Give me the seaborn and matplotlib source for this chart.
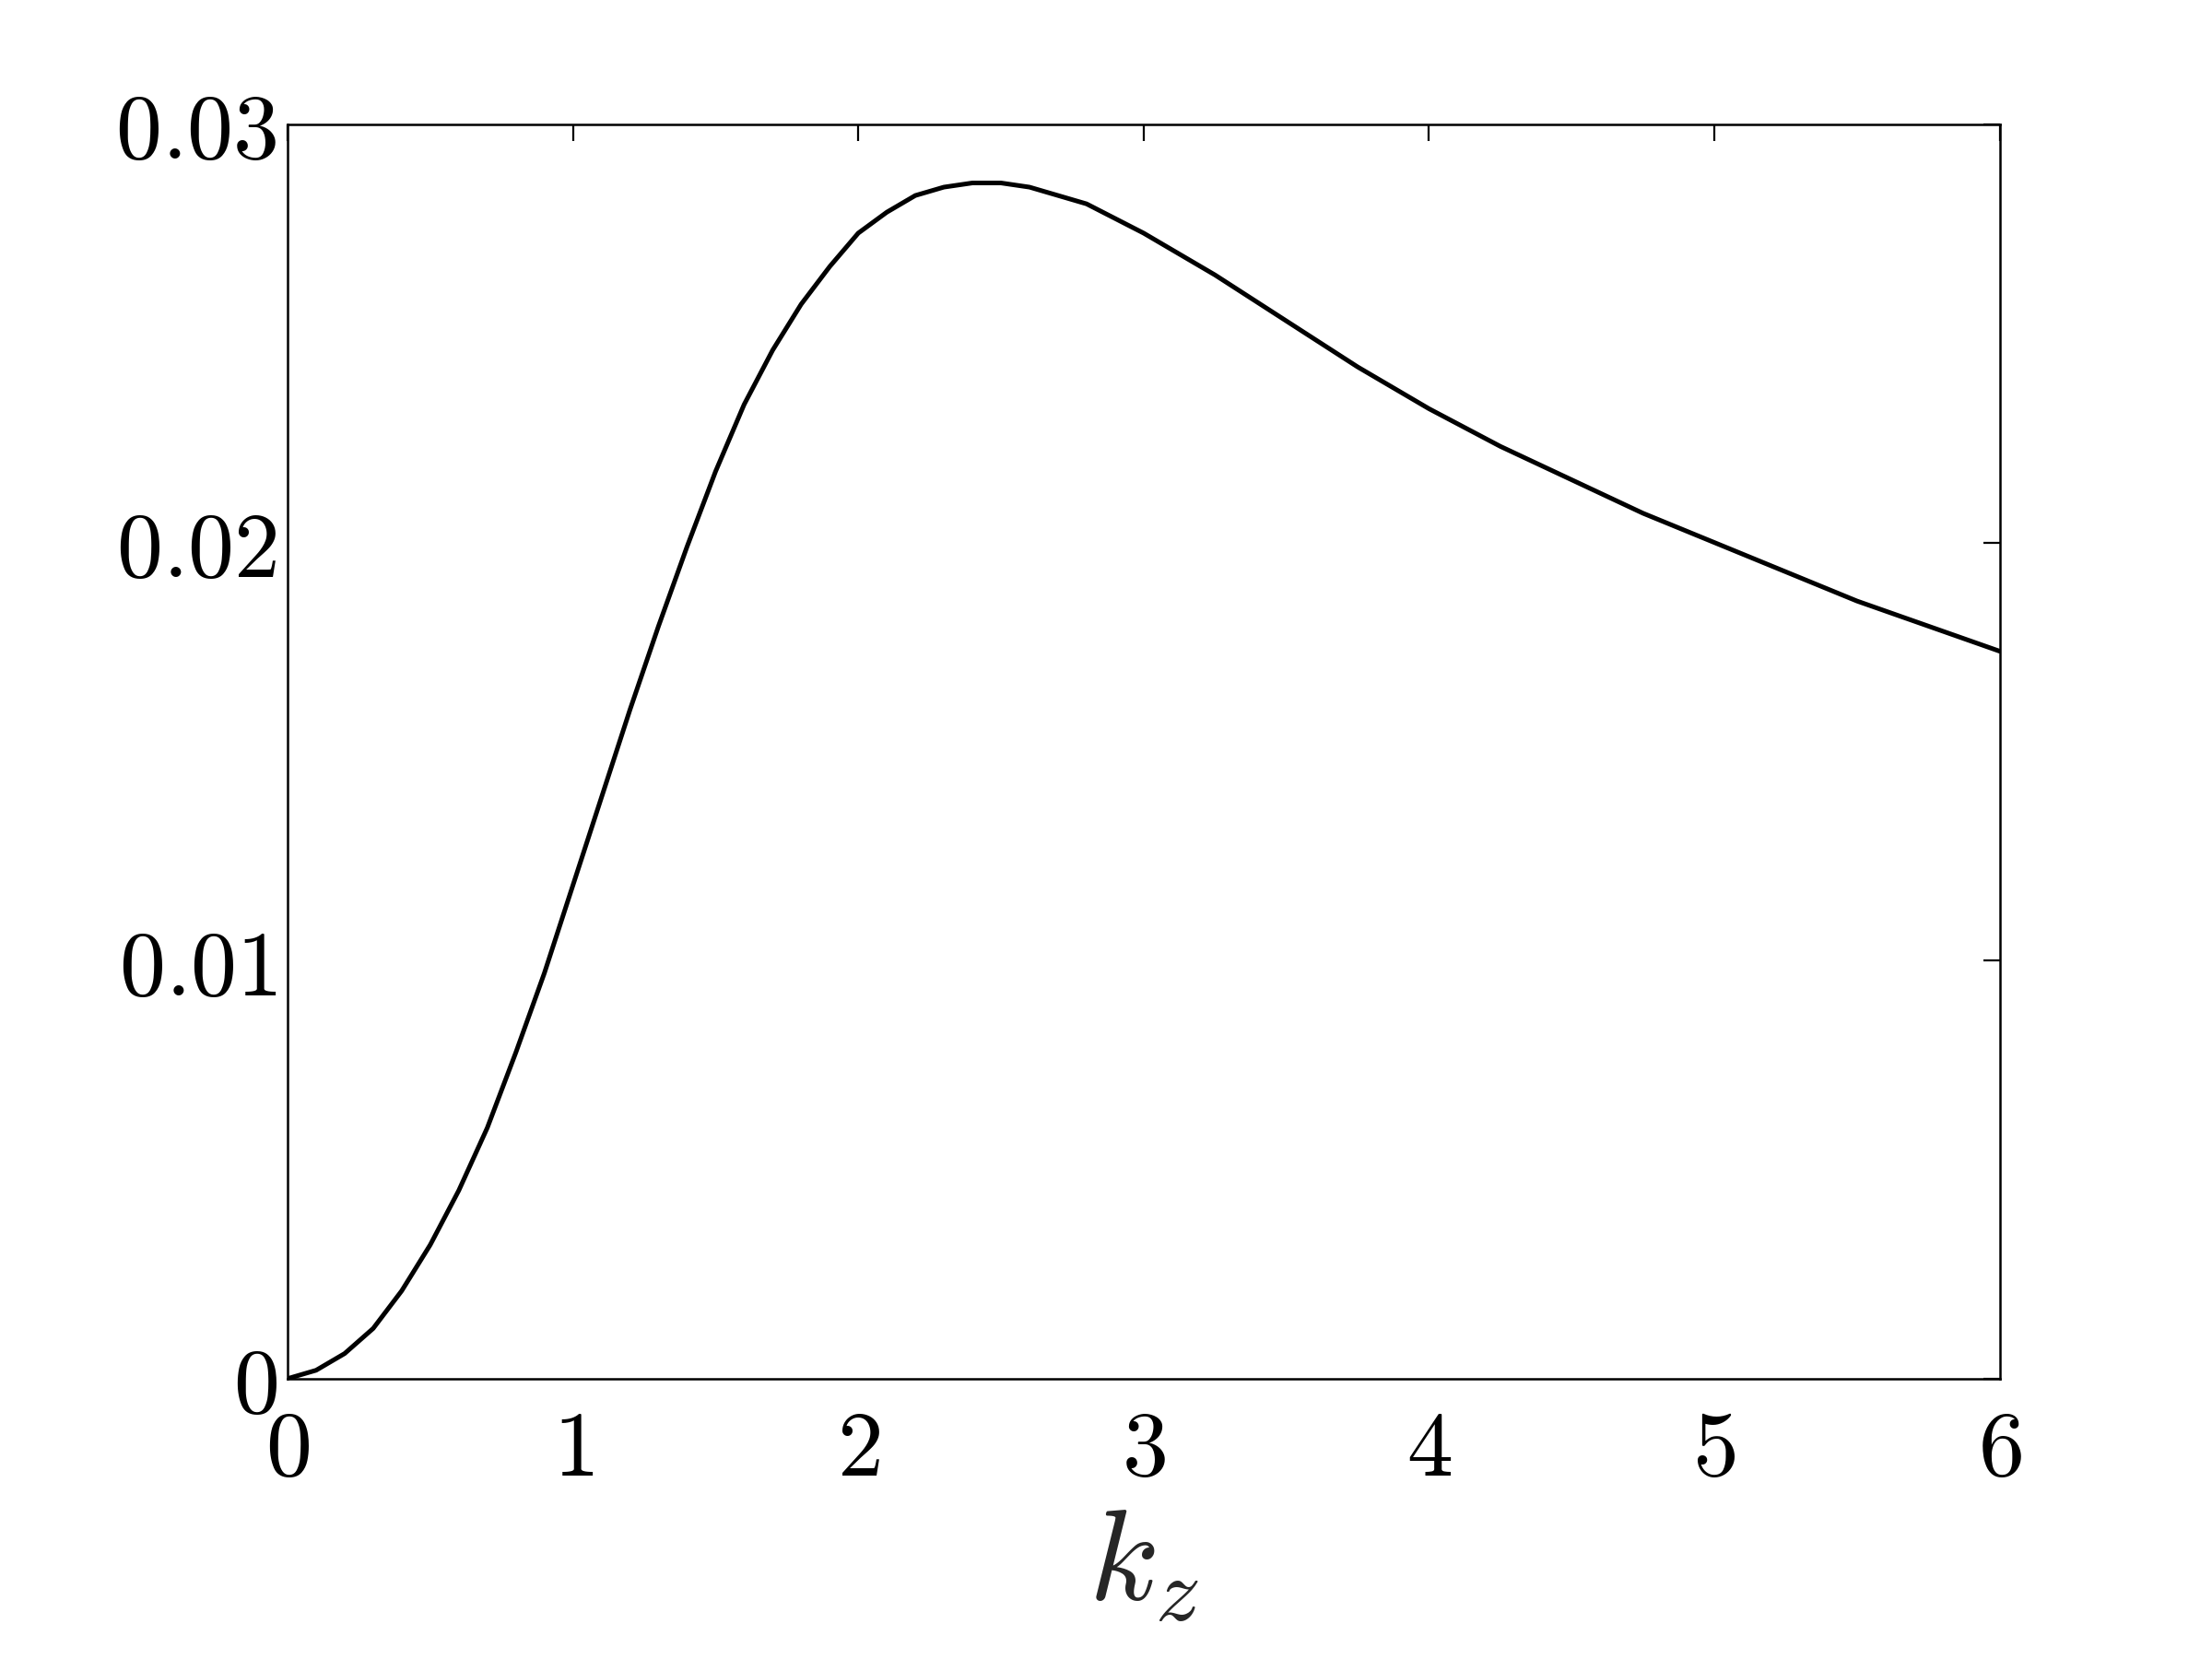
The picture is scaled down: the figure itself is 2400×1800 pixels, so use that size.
import numpy as np
import pandas as pd
import matplotlib
matplotlib.use("Agg")
import matplotlib.pyplot as plt
import seaborn as sns

# curve values
kz = [0.0, 0.1, 0.2, 0.3, 0.4, 0.5, 0.6, 0.7, 0.8, 0.9, 1.0, 1.1, 1.2, 1.3,
      1.4, 1.5, 1.6, 1.7, 1.8, 1.9, 2.0, 2.1, 2.2, 2.3, 2.4, 2.5, 2.6, 2.8,
      3.0, 3.25, 3.5, 3.75, 4.0, 4.25, 4.5, 4.75, 5.0, 5.25, 5.5, 5.75, 6.0]
growth = [0.0, 0.0002, 0.0006, 0.0012, 0.0021, 0.0032, 0.0045, 0.0060,
          0.0078, 0.0097, 0.0118, 0.0139, 0.0160, 0.0180, 0.0199, 0.0217,
          0.0233, 0.0246, 0.0257, 0.0266, 0.0274, 0.0279, 0.0283, 0.0285,
          0.0286, 0.0286, 0.0285, 0.0281, 0.0274, 0.0264, 0.0253, 0.0242,
          0.0232, 0.0223, 0.0215, 0.0207, 0.0200, 0.0193, 0.0186, 0.0180,
          0.0174]
xticks = [0, 1, 2, 3, 4, 5, 6]
yticks = [0, 0.01, 0.02, 0.03]
ytick_labels = ["0", "0.01", "0.02", "0.03"]

df = pd.DataFrame({"kz": kz, "growth": growth})

sns.set_style("white")
plt.rcParams["mathtext.fontset"] = "cm"
plt.rcParams["font.family"] = ["DejaVu Serif"]

fig = plt.figure(figsize=(12, 9), dpi=200)
ax = fig.add_axes([0.130, 0.169, 0.774, 0.756])

sns.lineplot(data=df, x="kz", y="growth", color="black", linewidth=1.8, ax=ax)

ax.set_xlim(0, 6)
ax.set_ylim(0, 0.03)
ax.set_xticks(xticks)
ax.set_xticklabels([f"${t}$" for t in xticks], fontsize=36)
ax.set_yticks(yticks)
ax.set_yticklabels([f"${t}$" for t in ytick_labels], fontsize=36)
ax.tick_params(direction="in", length=6.5, width=0.8, top=True, right=True,
               colors="black")
ax.tick_params(axis="x", pad=11)
ax.tick_params(axis="y", pad=4)
for s in ax.spines.values():
    s.set_visible(True)
    s.set_color("black")
    s.set_linewidth(0.9)

ax.set_ylabel("")
ax.set_xlabel("$k_{z}$", fontsize=50, labelpad=3)

fig.savefig("out.png", dpi=200, facecolor="white")
